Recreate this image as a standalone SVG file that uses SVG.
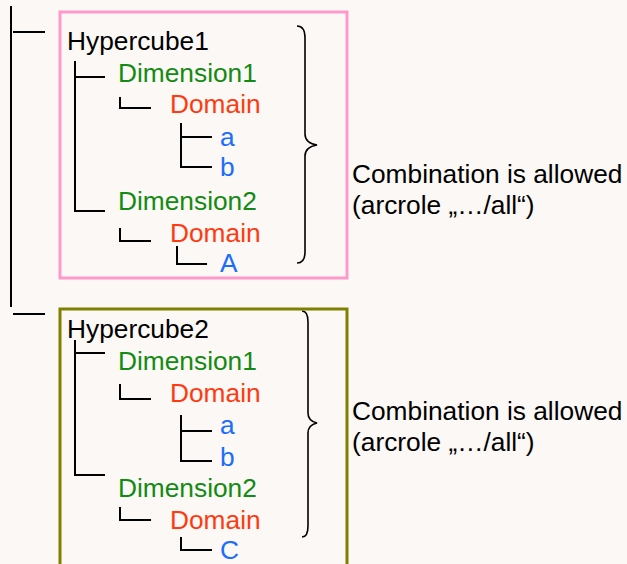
<svg xmlns="http://www.w3.org/2000/svg" width="627" height="564" viewBox="0 0 627 564">
<style>
text{font-family:"Liberation Sans",Arial,Helvetica,sans-serif;font-size:26.3px}
.k{fill:#000}
.g{fill:#138a13}
.r{fill:#ff3a12}
.b{fill:#1a6dff}
.ln{stroke:#000;stroke-width:2;fill:none}
.br{stroke:#000;stroke-width:1.6;fill:none}
</style>
<rect width="627" height="564" fill="#fbf8f5"/>
<g id="connectors">
<path class="ln" d="M11,6 V307 M13,32 H45 M13,314 H45"/>
<path class="ln" d="M75,61 V211 H105 M75,77 H105 M120,97 V108 H151 M181,123 V167 H212 M181,137 H212 M120,228 V241 H151 M177,246 V264 H207"/>
<path class="ln" d="M75,340 V475 H105 M75,353 H105 M120,384 V399 H151 M181,415 V461 H212 M181,431 H212 M120,507 V520 H151 M181,537 V550 H212"/>
<path class="br" d="M297,26 Q305,26 305,38 L305,134 Q305,143 317,145 Q305,147 305,156 L305,252 Q305,263 297,263"/>
<path class="br" d="M302,311 Q308,311 308,322 L308,413 Q308,421 317,423 Q308,425 308,433 L308,526 Q308,537 302,537"/>
</g>
<g id="hypercube1">
<rect x="60" y="12" width="287" height="266" fill="none" stroke="#ff99cc" stroke-width="3"/>
<text class="k" x="67" y="50">Hypercube1</text>
<text class="g" x="118" y="82">Dimension1</text>
<text class="r" x="170" y="113">Domain</text>
<text class="b" x="220" y="146">a</text>
<text class="b" x="220" y="176">b</text>
<text class="g" x="118" y="210">Dimension2</text>
<text class="r" x="170" y="242">Domain</text>
<text class="b" x="220" y="272">A</text>
</g>
<g id="note1">
<text class="k" x="352" y="183">Combination is allowed</text>
<text class="k" x="352" y="214">(arcrole „…/all“)</text>
</g>
<g id="hypercube2">
<rect x="60" y="309" width="287" height="270" fill="none" stroke="#808000" stroke-width="3"/>
<text class="k" x="67" y="338">Hypercube2</text>
<text class="g" x="118" y="370">Dimension1</text>
<text class="r" x="170" y="402">Domain</text>
<text class="b" x="220" y="434">a</text>
<text class="b" x="220" y="466">b</text>
<text class="g" x="118" y="497">Dimension2</text>
<text class="r" x="170" y="529">Domain</text>
<text class="b" x="220" y="559">C</text>
</g>
<g id="note2">
<text class="k" x="352" y="420">Combination is allowed</text>
<text class="k" x="352" y="451">(arcrole „…/all“)</text>
</g>
</svg>
